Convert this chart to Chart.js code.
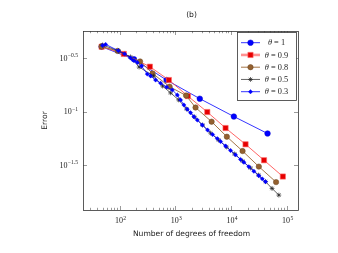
<!DOCTYPE html>
<html>
<head>
<meta charset="utf-8">
<script src="https://cdn.jsdelivr.net/npm/chart.js@4/dist/chart.umd.min.js"></script>
<style>
  html, body { margin: 0; padding: 0; background: #fff; }
</style>
</head>
<body>
<canvas id="chart" width="338" height="253"></canvas>
<script>
// values (dofs, error)
const thetaLabels = ["1", "0.9", "0.8", "0.5", "0.3"];

const dofs1 = [47.5, 181, 698, 2755, 11270, 45400];
const err1  = [0.406, 0.310, 0.198, 0.1324, 0.0901, 0.0625];

const dofs09 = [47.5, 119, 350, 767, 1683, 3757, 8000, 18280, 39260, 85500];
const err09  = [0.406, 0.3475, 0.264, 0.198, 0.140, 0.0993, 0.0703, 0.0495, 0.0351, 0.0247];

const dofs08 = [47.5, 92.1, 233, 391, 791, 1563, 2312, 4490, 8440, 16150, 31690, 64600];
const err08  = [0.408, 0.371, 0.2954, 0.228, 0.1714, 0.1418, 0.1094, 0.0806, 0.0583, 0.0428, 0.0306, 0.0219];

const dofs05 = [49.5, 95.9, 157, 224, 408, 591, 824, 1147, 1596, 2220, 3090, 4300, 5990, 8340, 11600, 16150, 22480, 31290, 41790, 54700, 72500];
const err05  = [0.4217, 0.371, 0.326, 0.262, 0.216, 0.174, 0.150, 0.129, 0.106, 0.0892, 0.0750, 0.0631, 0.0543, 0.0467, 0.0402, 0.0345, 0.0297, 0.0255, 0.0221, 0.0191, 0.01655];

const dofs03 = [49.5, 56.1, 94.8, 123, 157, 181, 208, 248, 314, 360, 443, 544, 698, 883, 1086, 1245, 1427, 1641, 1882, 2158, 2483, 3053, 3802, 4677, 5679, 6505, 7998, 9835, 12090, 14870, 17060, 20960, 25770, 31690, 36470, 41790];
const err03  = [0.417, 0.427, 0.373, 0.348, 0.318, 0.301, 0.289, 0.268, 0.225, 0.216, 0.198, 0.185, 0.170, 0.160, 0.1435, 0.129, 0.1156, 0.1053, 0.0979, 0.0898, 0.0836, 0.0750, 0.0673, 0.0611, 0.0560, 0.0525, 0.0477, 0.0433, 0.0394, 0.0357, 0.0336, 0.0305, 0.0277, 0.0251, 0.0235, 0.0221];

// tick exponents
const xTickExp = [2, 3, 4, 5];
const yTickExp = [-0.5, -1, -1.5];
const yTickText = ["\u22120.5", "\u22121", "\u22121.5"];

function pts(xs, ys) {
    return xs.map((x, i) => ({x: x, y: ys[i]}));
}

const serif = "'Liberation Serif', serif";
const sans = "'DejaVu Sans', sans-serif";

const datasets = [
    {
        label: "1", data: pts(dofs1, err1), order: 5,
        borderColor: "#0000ff", backgroundColor: "#0000ff", borderWidth: 0.8,
        pointStyle: "circle", pointRadius: 2.8, pointBorderWidth: 0.5,
        pointBorderColor: "#0000cc", pointBackgroundColor: "#0000ff"
    },
    {
        label: "0.9", data: pts(dofs09, err09), order: 4,
        borderColor: "#ff5555", backgroundColor: "#ee0000", borderWidth: 0.9,
        pointStyle: "rect", pointRadius: 3.7, pointBorderWidth: 0.6,
        pointBorderColor: "#ff6666", pointBackgroundColor: "#e60000"
    },
    {
        label: "0.8", data: pts(dofs08, err08), order: 3,
        borderColor: "#9a6633", backgroundColor: "#8f5e2e", borderWidth: 0.9,
        pointStyle: "circle", pointRadius: 2.7, pointBorderWidth: 0.5,
        pointBorderColor: "#6b4421", pointBackgroundColor: "#93602f"
    },
    {
        label: "0.5", data: pts(dofs05, err05), order: 2,
        borderColor: "#222222", backgroundColor: "#222222", borderWidth: 0.7,
        pointStyle: "star", pointRadius: 2.4, pointBorderWidth: 0.7,
        pointBorderColor: "#222222", pointBackgroundColor: "#222222"
    },
    {
        label: "0.3", data: pts(dofs03, err03), order: 1,
        borderColor: "#0000ff", backgroundColor: "#0000ff", borderWidth: 0.8,
        pointStyle: "rectRot", pointRadius: 2.2, pointBorderWidth: 0.3,
        pointBorderColor: "#0000ff", pointBackgroundColor: "#0000ff"
    }
];

function powerLabel(ctx, exp, x, y, align) {
    ctx.font = "8px " + serif;
    const wb = ctx.measureText("10").width;
    ctx.font = "5.6px " + serif;
    const we = ctx.measureText(exp).width;
    const total = wb + we + 0.3;
    let start = align === "right" ? x - total : x - total / 2;
    ctx.textAlign = "left";
    ctx.textBaseline = "alphabetic";
    ctx.fillStyle = "#222";
    ctx.font = "8px " + serif;
    ctx.fillText("10", start, y);
    ctx.font = "5.6px " + serif;
    ctx.fillText(exp, start + wb + 0.3, y - 3.4);
}

const framePlugin = {
    id: "frame",
    afterDraw(chart) {
        const ctx = chart.ctx;
        const a = chart.chartArea;
        const xs = chart.scales.x, ys = chart.scales.y;
        ctx.save();

        // ticks on all four sides, pointing in
        ctx.strokeStyle = "#555";
        ctx.lineWidth = 0.6;
        ctx.beginPath();
        for (let k = 1; k <= 5; k++) {
            for (let m = 1; m <= 9; m++) {
                const v = m * Math.pow(10, k);
                if (v < xs.min || v > xs.max) continue;
                const px = Math.round(xs.getPixelForValue(v)) + 0.5;
                const len = m === 1 ? 4 : 2.2;
                ctx.moveTo(px, a.bottom); ctx.lineTo(px, a.bottom - len);
                ctx.moveTo(px, a.top); ctx.lineTo(px, a.top + len);
            }
        }
        yTickExp.forEach(e => {
            const py = Math.round(ys.getPixelForValue(Math.pow(10, e))) + 0.5;
            ctx.moveTo(a.left, py); ctx.lineTo(a.left + 4, py);
            ctx.moveTo(a.right, py); ctx.lineTo(a.right - 4, py);
        });
        ctx.stroke();

        // frame
        ctx.strokeStyle = "#333";
        ctx.lineWidth = 0.8;
        ctx.strokeRect(Math.round(a.left) + 0.5, Math.round(a.top) + 0.5,
                       Math.round(a.right - a.left), Math.round(a.bottom - a.top));

        // tick labels
        xTickExp.forEach(e => {
            powerLabel(ctx, String(e), xs.getPixelForValue(Math.pow(10, e)) + 1, a.bottom + 13, "center");
        });
        yTickExp.forEach((e, i) => {
            powerLabel(ctx, yTickText[i], a.left - 5, ys.getPixelForValue(Math.pow(10, e)) + 2.5, "right");
        });

        // axis titles + panel title
        ctx.fillStyle = "#222";
        ctx.font = "7.6px " + sans;
        ctx.textAlign = "center";
        ctx.textBaseline = "middle";
        ctx.fillText("Number of degrees of freedom", (a.left + a.right) / 2 + 1, 234.5);
        ctx.fillText("(b)", (a.left + a.right) / 2 + 1, 15);
        ctx.save();
        ctx.translate(45.5, 120.5);
        ctx.rotate(-Math.PI / 2);
        ctx.fillText("Error", 0, 0);
        ctx.restore();

        // legend box
        const bx = 237.5, by = 32.5, bw = 59, bh = 68;
        ctx.fillStyle = "#fff";
        ctx.fillRect(bx, by, bw, bh);
        ctx.strokeStyle = "#333";
        ctx.lineWidth = 0.8;
        ctx.strokeRect(bx, by, bw, bh);

        chart.data.datasets.forEach((ds, i) => {
            const ly = 42.7 + i * 12.25;
            ctx.beginPath();
            if (i === 1) {
                ctx.strokeStyle = "rgba(255,110,110,0.75)";
                ctx.lineWidth = 2.6;
            } else {
                ctx.strokeStyle = ds.borderColor;
                ctx.lineWidth = ds.borderWidth;
            }
            ctx.moveTo(241, ly); ctx.lineTo(260, ly);
            ctx.stroke();
            ctx.fillStyle = ds.pointBackgroundColor;
            ctx.strokeStyle = ds.pointBorderColor;
            ctx.lineWidth = ds.pointBorderWidth;
            Chart.helpers.drawPoint(ctx, {
                pointStyle: ds.pointStyle, radius: ds.pointRadius,
                rotation: 0, borderWidth: ds.pointBorderWidth
            }, 250.5, ly);

            // "θ = value"
            ctx.fillStyle = "#222";
            ctx.textBaseline = "middle";
            ctx.textAlign = "left";
            ctx.font = "italic 8.3px " + serif;
            const wt = ctx.measureText("\u03b8").width;
            ctx.font = "8.3px " + serif;
            const rest = " = " + thetaLabels[i];
            const wr = ctx.measureText(rest).width;
            const sx = 276.5 - (wt + wr) / 2;
            ctx.font = "italic 8.3px " + serif;
            ctx.fillText("\u03b8", sx, ly + 0.5);
            ctx.font = "8.3px " + serif;
            ctx.fillText(rest, sx + wt, ly + 0.5);
        });

        ctx.restore();
    }
};

new Chart(document.getElementById("chart"), {
    type: "line",
    data: { datasets: datasets },
    options: {
        responsive: false,
        animation: false,
        devicePixelRatio: 1,
        layout: { padding: { left: 83, right: 40, top: 31, bottom: 43 } },
        plugins: { legend: { display: false }, tooltip: { enabled: false }, title: { display: false } },
        scales: {
            x: { type: "logarithmic", min: 22, max: 160000, display: false },
            y: { type: "logarithmic", min: 0.0120, max: 0.570, display: false }
        }
    },
    plugins: [framePlugin]
});
</script>
</body>
</html>
